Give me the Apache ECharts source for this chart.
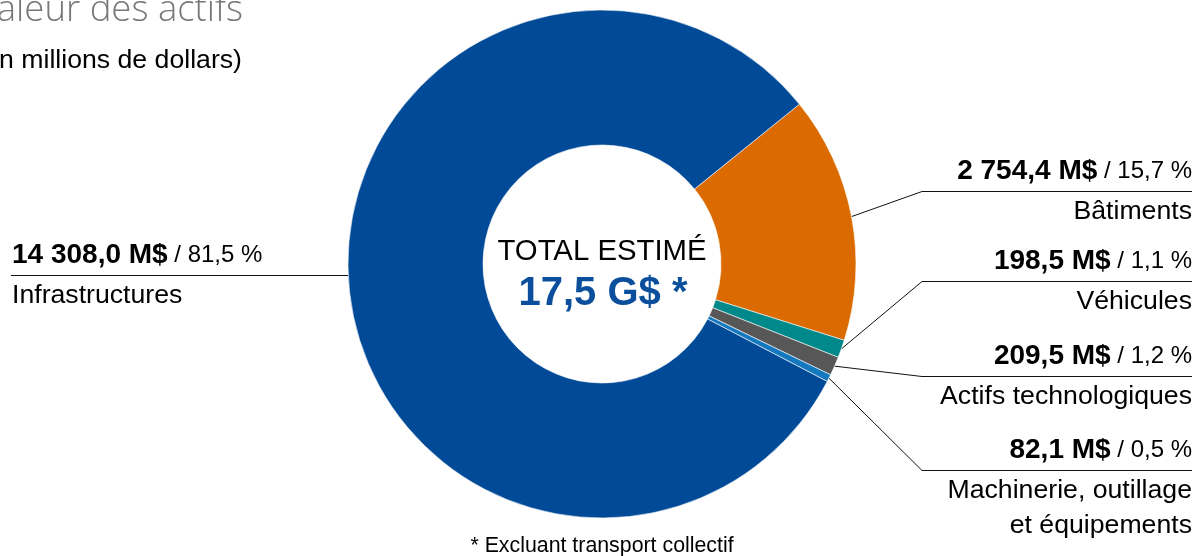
<!DOCTYPE html>
<html><head><meta charset="utf-8">
<script src="https://cdn.jsdelivr.net/npm/echarts@6/dist/echarts.min.js"></script>
<style>html,body{margin:0;padding:0;background:#fff}#c{width:1198px;height:556px}</style>
</head><body><div id="c"></div>
<script>
// ---- data ----
const categories = ['Bâtiments', 'Véhicules', 'Actifs technologiques', 'Machinerie, outillage\net équipements', 'Infrastructures'];
const values = [2754.4, 198.5, 209.5, 82.1, 14308.0];
const percents = [15.7, 1.1, 1.2, 0.5, 81.5];
const colors = ['#db6b00', '#00898a', '#575757', '#1478be', '#004a97'];
const titleText = 'Valeur des actifs';
const subtitleText = '(en millions de dollars)';
const totalLabel = 'TOTAL ESTIMÉ';
const totalValue = '17,5 G$ *';
const footnote = '* Excluant transport collectif';

// ---- layout (annotation placement) ----
const labelLineY = [191.5, 281.5, 376.5, 470.5, 275.5];
const labelSide = ['right', 'right', 'right', 'right', 'left'];
const RIGHT_TEXT_X = 1192, RIGHT_LINE_X0 = 922, LEFT_TEXT_X = 12, LEFT_LINE_X = 11;
const FONT = '"Liberation Sans", Arial, Helvetica, sans-serif';

function fmtNum(v, d) {
  const s = v.toFixed(d).split('.');
  const intPart = s[0].replace(/\B(?=(\d{3})+(?!\d))/g, ' ');
  return intPart + (d ? ',' + s[1] : '');
}

const chart = echarts.init(document.getElementById('c'), null, {renderer: 'canvas'});
const option = {
  animation: false,
  backgroundColor: '#fff',
  graphic: [
    {type: 'text', x: 243, y: 11, silent: true, style: {text: titleText, font: '300 36.5px "Open Sans", Lato, sans-serif', fill: '#777', align: 'right', textAlign: 'right', verticalAlign: 'middle', textVerticalAlign: 'middle'}},
    {type: 'text', x: 242, y: 61, silent: true, style: {text: subtitleText, font: '26.67px ' + FONT, fill: '#000', align: 'right', textAlign: 'right', verticalAlign: 'middle', textVerticalAlign: 'middle'}},
    {type: 'text', x: 602, y: 252, silent: true, style: {text: totalLabel, font: '29.33px ' + FONT, fill: '#000', align: 'center', textAlign: 'center', verticalAlign: 'middle', textVerticalAlign: 'middle'}},
    {type: 'text', x: 603, y: 294, silent: true, style: {text: totalValue, font: 'bold 40px ' + FONT, fill: '#0b4f9c', align: 'center', textAlign: 'center', verticalAlign: 'middle', textVerticalAlign: 'middle'}},
    {type: 'text', x: 602, y: 546, silent: true, style: {text: footnote, font: '21.33px ' + FONT, fill: '#000', align: 'center', textAlign: 'center', verticalAlign: 'middle', textVerticalAlign: 'middle'}}
  ],
  series: [{
    type: 'pie',
    center: [602, 264],
    radius: [119, 254],
    startAngle: 39,
    clockwise: true,
    avoidLabelOverlap: false,
    silent: true,
    itemStyle: {borderColor: '#fff', borderWidth: 0.6},
    emphasis: {disabled: true},
    data: categories.map((c, i) => ({name: c, value: values[i], itemStyle: {color: colors[i]}})),
    label: {
      show: true,
      position: 'outside',
      width: 300,
      overflow: 'none',
      color: '#000',
      fontFamily: FONT,
      formatter: function (p) {
        const i = p.dataIndex;
        const lines = categories[i].split('\n');
        let s = '{v|' + fmtNum(values[i], 1) + ' M$}{p| / ' + fmtNum(percents[i], 1) + ' %}\n{n|' + lines[0] + '}';
        if (lines[1]) s += '\n{n2|' + lines[1] + '}';
        return s;
      },
      rich: {
        v: {fontFamily: FONT, fontSize: 28, fontWeight: 'bold', color: '#000', lineHeight: 40},
        p: {fontFamily: FONT, fontSize: 24, color: '#000', lineHeight: 40},
        n: {fontFamily: FONT, fontSize: 26.67, color: '#000', lineHeight: 40},
        n2: {fontFamily: FONT, fontSize: 26.67, color: '#000', lineHeight: 30}
      }
    },
    labelLine: {show: true, length: 20, length2: 20, smooth: false, lineStyle: {color: '#111', width: 1}},
    labelLayout: function (params) {
      const i = params.dataIndex;
      const y = labelLineY[i];
      if (labelSide[i] === 'right') {
        const p0 = params.labelLinePoints ? params.labelLinePoints[0] : [params.rect.x + params.rect.width, y];
        return {x: RIGHT_TEXT_X, y: y - 40, align: 'right', verticalAlign: 'top',
                labelLinePoints: [p0, [RIGHT_LINE_X0, y], [RIGHT_TEXT_X, y]]};
      }
      const r = params.rect;
      return {x: LEFT_TEXT_X, y: y - 40, align: 'left', verticalAlign: 'top',
              labelLinePoints: [[r.x + 0.5, y], [LEFT_LINE_X, y]]};
    }
  }]
};
chart.setOption(option);
</script>
</body></html>
